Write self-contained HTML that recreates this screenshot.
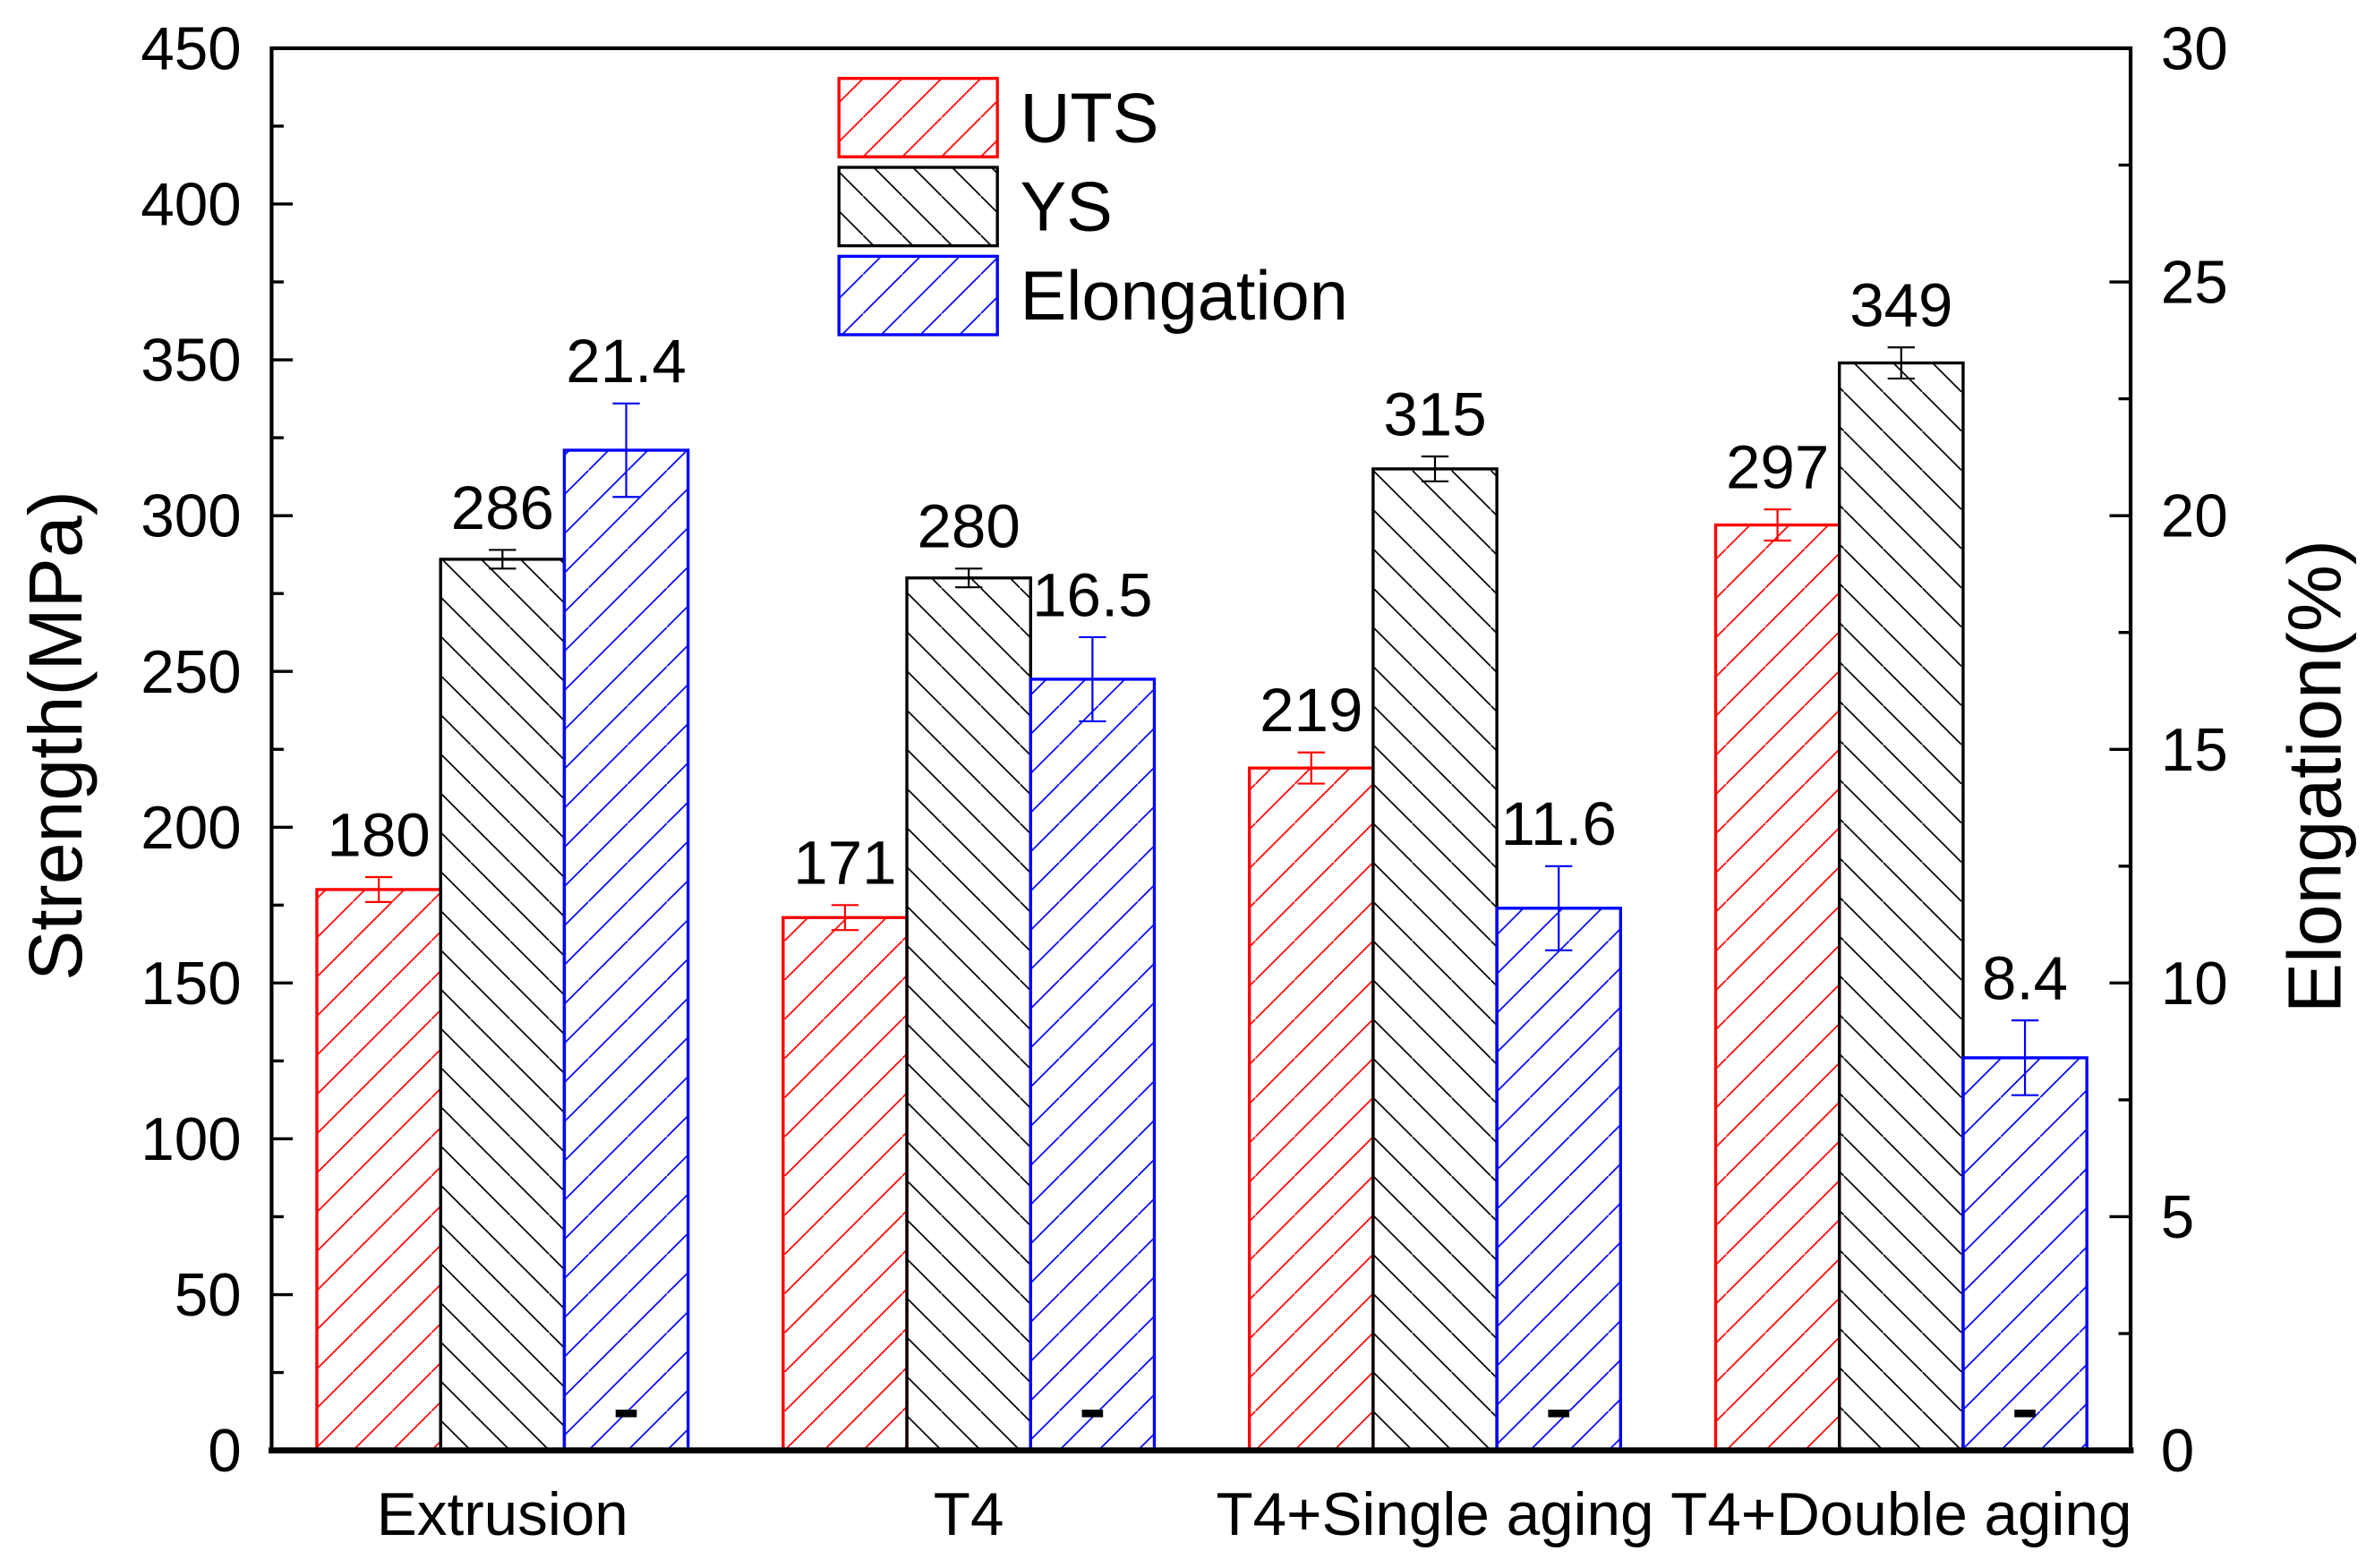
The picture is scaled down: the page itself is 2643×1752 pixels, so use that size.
<!DOCTYPE html>
<html><head><meta charset="utf-8"><style>
html,body{margin:0;padding:0;background:#fff;}
svg{display:block;}
text{font-family:"Liberation Sans",Arial,sans-serif;}
</style></head><body>
<svg id="chart" width="2643" height="1752" viewBox="0 0 1568 1040" preserveAspectRatio="none" xmlns="http://www.w3.org/2000/svg">
<defs>
<pattern id="hr" patternUnits="userSpaceOnUse" width="26" height="26"><line x1="-26" y1="52" x2="52" y2="-26" stroke="red" stroke-width="1"/></pattern>
<pattern id="hb" patternUnits="userSpaceOnUse" width="26" height="26"><line x1="-26" y1="-26" x2="52" y2="52" stroke="#000" stroke-width="1"/></pattern>
<pattern id="hu" patternUnits="userSpaceOnUse" width="26" height="26"><line x1="-26" y1="52" x2="52" y2="-26" stroke="blue" stroke-width="1"/></pattern>
</defs>
<g id="marks"></g>
<g id="axes"></g>
</svg>
<script>
const categories=["Extrusion","T4","T4+Single aging","T4+Double aging"];
const uts=[180,171,219,297];
const utsErr=[4,4,5,5];
const ys=[286,280,315,349];
const ysErr=[3,3,4,5];
const elong=[21.4,16.5,11.6,8.4];
const elongErr=[1.0,0.9,0.9,0.8];
const leftTicks=[0,50,100,150,200,250,300,350,400,450];
const rightTicks=[0,5,10,15,20,25,30];

const NS="http://www.w3.org/2000/svg";
const X0=180,X1=1412,Y0=962,Y1=32;
const yL=v=>Y0-(v/450)*(Y0-Y1);
const yR=v=>Y0-(v/30)*(Y0-Y1);
const groupC=i=>333+i*309;
const BW=82;
function mk(tag,attrs,parent,txt){const e=document.createElementNS(NS,tag);for(const k in attrs)e.setAttribute(k,attrs[k]);if(txt!==undefined)e.textContent=txt;parent.appendChild(e);return e;}
const marks=document.getElementById('marks'),axes=document.getElementById('axes');

const series=[
 {vals:uts,err:utsErr,f:yL,fill:'url(#hr)',col:'red',name:'uts',lab:v=>String(v)},
 {vals:ys,err:ysErr,f:yL,fill:'url(#hb)',col:'#000',name:'ys',lab:v=>String(v)},
 {vals:elong,err:elongErr,f:yR,fill:'url(#hu)',col:'blue',name:'elongation',lab:v=>v.toFixed(1)}
];
series.forEach((s,si)=>{
 s.vals.forEach((v,i)=>{
  const x=groupC(i)-1.5*BW+si*BW, y=s.f(v);
  const r=mk('rect',{x:x,y:y,width:BW,height:Y0-y,fill:s.fill,stroke:s.col,'stroke-width':2},marks);
  
  
  const cx=x+BW/2, e=s.err[i], yt=s.f(v+e), yb=s.f(v-e);
  const g=mk('g',{stroke:s.col,'stroke-width':1.3},marks);
  
  
  mk('line',{x1:cx,y1:yt,x2:cx,y2:yb},g);
  mk('line',{x1:cx-9,y1:yt,x2:cx+9,y2:yt},g);
  mk('line',{x1:cx-9,y1:yb,x2:cx+9,y2:yb},g);
  const t=mk('text',{x:cx,y:yt-14,'font-size':41,'text-anchor':'middle',fill:'#000'},marks,s.lab(v));
  
  
  if(si===2){const d=mk('rect',{x:cx-7,y:935,width:14,height:5,fill:'#000'},marks);
   
   }
 });
});
const fr=mk('rect',{x:X0,y:Y1,width:X1-X0,height:Y0-Y1,fill:'none',stroke:'#000','stroke-width':2.5},axes);


mk('line',{x1:X0-2,y1:Y0,x2:X1+2,y2:Y0,stroke:'#000','stroke-width':4},axes);
leftTicks.forEach(v=>{
 const y=yL(v);
 mk('line',{x1:X0,y1:y,x2:X0+14,y2:y,stroke:'#000','stroke-width':2},axes);
 if(v<450){const ym=yL(v+25);mk('line',{x1:X0,y1:ym,x2:X0+8,y2:ym,stroke:'#000','stroke-width':2},axes);}
 const t=mk('text',{x:X0-20,y:y+14,'font-size':40,'text-anchor':'end'},axes,String(v));
 
 
});
rightTicks.forEach(v=>{
 const y=yR(v);
 mk('line',{x1:X1-14,y1:y,x2:X1,y2:y,stroke:'#000','stroke-width':2},axes);
 if(v<30){const ym=yR(v+2.5);mk('line',{x1:X1-8,y1:ym,x2:X1,y2:ym,stroke:'#000','stroke-width':2},axes);}
 const t=mk('text',{x:X1+20,y:y+14,'font-size':40,'text-anchor':'start'},axes,String(v));
 
 
});
categories.forEach((c,i)=>{
 const t=mk('text',{x:groupC(i),y:1018,'font-size':40,'text-anchor':'middle'},axes,c);
 
 
});
const yt=mk('text',{x:0,y:0,'font-size':50,'text-anchor':'middle',transform:'translate(54,488) rotate(-90)'},axes,'Strength(MPa)');


const yt2=mk('text',{x:0,y:0,'font-size':50,'text-anchor':'middle',transform:'translate(1551,515) rotate(-90)'},axes,'Elongation(%)');


const legend=[['UTS','url(#hr)','red'],['YS','url(#hb)','#000'],['Elongation','url(#hu)','blue']];
legend.forEach((l,i)=>{
 const g=mk('g',{},axes);
 
 
 const y=52+i*59;
 mk('rect',{x:556,y:y,width:105,height:52,fill:l[1],stroke:l[2],'stroke-width':2},g);
 mk('text',{x:676,y:y+42,'font-size':46},g,l[0]);
});
</script>
</body></html>
